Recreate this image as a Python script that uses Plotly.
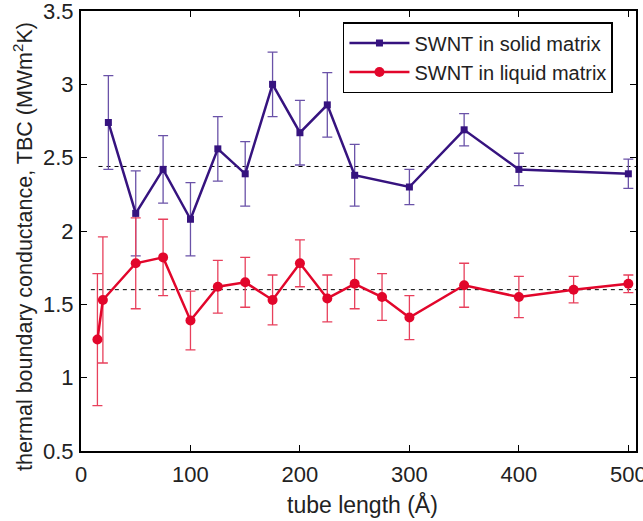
import plotly.graph_objects as go

# Data
solid_x = [25, 50, 75, 100, 125, 150, 175, 200, 225, 250, 300, 350, 400, 500]
solid_y = [2.74, 2.12, 2.42, 2.08, 2.56, 2.39, 3.00, 2.67, 2.86, 2.38, 2.30, 2.69, 2.42, 2.39]
solid_err = [0.32, 0.29, 0.23, 0.25, 0.22, 0.22, 0.22, 0.22, 0.22, 0.21, 0.12, 0.11, 0.11, 0.10]

liquid_x = [15, 20, 50, 75, 100, 125, 150, 175, 200, 225, 250, 275, 300, 350, 400, 450, 500]
liquid_y = [1.26, 1.53, 1.78, 1.82, 1.39, 1.62, 1.65, 1.53, 1.78, 1.54, 1.64, 1.55, 1.41, 1.63, 1.55, 1.60, 1.64]
liquid_err = [0.45, 0.43, 0.31, 0.26, 0.20, 0.18, 0.17, 0.17, 0.16, 0.16, 0.17, 0.16, 0.15, 0.15, 0.14, 0.09, 0.06]

solid_mean = 2.44
liquid_mean = 1.60
solid_mean_x = [16, 507]
liquid_mean_x = [9, 507]

x_ticks = [0, 100, 200, 300, 400, 500]
y_ticks = [0.5, 1, 1.5, 2, 2.5, 3, 3.5]
y_tick_labels = ["0.5", "1", "1.5", "2", "2.5", "3", "3.5"]

x_title = "tube length (Å)"
y_title = "thermal boundary conductance, TBC (MWm<sup>2</sup>K)"

PURPLE = "#36137f"
PURPLE_ERR = "#6a52a8"
RED = "#e2062b"
RED_ERR = "#e8405c"
FONT = "Liberation Sans, Arial, sans-serif"

fig = go.Figure()

fig.add_trace(go.Scatter(
    x=solid_mean_x, y=[solid_mean, solid_mean], mode="lines",
    line=dict(color="black", width=1, dash="4px,4px"), showlegend=False, hoverinfo="skip"))
fig.add_trace(go.Scatter(
    x=liquid_mean_x, y=[liquid_mean, liquid_mean], mode="lines",
    line=dict(color="black", width=1, dash="4px,4px"), showlegend=False, hoverinfo="skip"))

fig.add_trace(go.Scatter(
    x=solid_x, y=solid_y, mode="lines+markers", name="SWNT in solid matrix",
    line=dict(color=PURPLE, width=2.5),
    marker=dict(symbol="square", size=7, color=PURPLE),
    error_y=dict(type="data", array=solid_err, visible=True, color=PURPLE_ERR, thickness=1.3, width=5)))

fig.add_trace(go.Scatter(
    x=liquid_x, y=liquid_y, mode="lines+markers", name="SWNT in liquid matrix",
    line=dict(color=RED, width=2.5),
    marker=dict(symbol="circle", size=10, color=RED),
    error_y=dict(type="data", array=liquid_err, visible=True, color=RED_ERR, thickness=1.3, width=5)))

axis_common = dict(
    showline=True, linecolor="black", linewidth=2, mirror="ticks",
    ticks="inside", ticklen=6, tickwidth=1, tickcolor="black",
    showgrid=False, zeroline=False, automargin=False,
    ticklabeloverflow="allow",
    tickfont=dict(family=FONT, size=22, color="#222"),
)

fig.update_layout(
    width=643, height=521,
    margin=dict(l=81, r=7, t=11, b=70),
    paper_bgcolor="white", plot_bgcolor="white",
    font=dict(family=FONT, color="#222"),
    xaxis=dict(range=[0, 507], tickvals=x_ticks, ticklabelstandoff=3, **axis_common),
    yaxis=dict(range=[0.5, 3.5], tickvals=y_ticks, ticktext=y_tick_labels,
               ticklabelstandoff=1, **axis_common),
    legend=dict(x=0.472, y=0.975, xanchor="left", yanchor="top",
                bgcolor="white", bordercolor="black", borderwidth=1.5,
                font=dict(size=20, color="#222"), tracegroupgap=0,
                itemwidth=60),
    annotations=[
        dict(text=x_title, xref="paper", yref="paper", x=0.508, y=-0.1227,
             xanchor="center", yanchor="middle", showarrow=False,
             font=dict(family=FONT, size=23, color="#222")),
        dict(text=y_title, xref="paper", yref="paper", x=-0.1045, y=0.4636,
             xanchor="center", yanchor="middle", textangle=-90, showarrow=False,
             font=dict(family=FONT, size=21.5, color="#222")),
    ],
)

fig.write_html("out.html", config={"displayModeBar": False},
               post_script="document.body.style.margin='0';document.body.style.padding='0';")
